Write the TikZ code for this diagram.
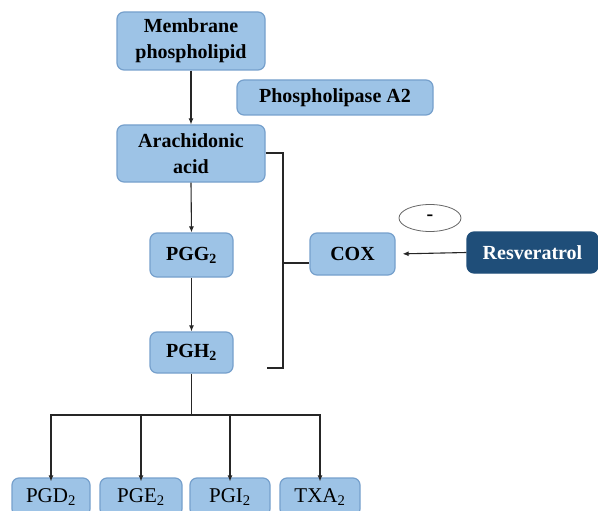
\documentclass[tikz,border=0pt]{standalone}
\usepackage{fontspec}
\setmainfont{Liberation Serif}
\usepackage{xcolor}
\usetikzlibrary{arrows.meta}
\usetikzlibrary{shapes.geometric}
\definecolor{boxblue}{RGB}{157, 195, 230}
\definecolor{edgeblue}{RGB}{118, 160, 204}
\definecolor{darkblue}{RGB}{31, 78, 121}

\begin{document}
\begin{tikzpicture}[x=1pt,y=-1pt,
  stepbox/.style={draw=edgeblue,fill=boxblue,line width=1.2pt,rounded corners=7pt,
    align=center,inner sep=0pt,font=\fontsize{20}{26}\selectfont\bfseries},
  prodbox/.style={stepbox,font=\fontsize{21}{25}\selectfont},
  link/.style={line width=1.1pt,color=black!85},
  flow/.style={link,-{Latex[length=6pt,width=5pt]}}
]
\useasboundingbox (0,0) rectangle (598,511);

%pathway boxes
\node[stepbox,minimum width=148pt,minimum height=58pt] (mem) at (191,41) {Membrane\\phospholipid};
\node[stepbox,minimum width=196pt,minimum height=35pt] (pla) at (335,97.5) {Phospholipase A2};
\node[stepbox,minimum width=148pt,minimum height=57pt] (ara) at (191,153.5) {Arachidonic\\acid};
\node[stepbox,minimum width=83pt,minimum height=44pt] (pgg) at (191.5,255) {PGG\textsubscript{2}};
\node[stepbox,minimum width=83pt,minimum height=41pt] (pgh) at (191.5,352.5) {PGH\textsubscript{2}};
\node[stepbox,minimum width=85pt,minimum height=42pt] (cox) at (352.5,254) {COX};
\node[stepbox,fill=darkblue,draw=darkblue,text=white,minimum width=131pt,minimum height=41pt] (res) at (532.5,252.5) {Resveratrol};
\node[ellipse,draw=black!60,line width=0.8pt,minimum width=62pt,minimum height=27pt,inner sep=0pt,
  font=\fontsize{20}{24}\selectfont\bfseries] (minus) at (430,218) {-};

%products
\node[prodbox,minimum width=78pt,minimum height=38pt] (pgd) at (51,497) {PGD\textsubscript{2}};
\node[prodbox,minimum width=82pt,minimum height=38pt] (pge) at (141,497) {PGE\textsubscript{2}};
\node[prodbox,minimum width=80pt,minimum height=38pt] (pgi) at (230,497) {PGI\textsubscript{2}};
\node[prodbox,minimum width=80pt,minimum height=38pt] (txa) at (320,497) {TXA\textsubscript{2}};

%main chain
\draw[flow] (mem.south) -- (ara.north);
\draw[flow] (ara.south) -- (pgg.north);
\draw[flow] (pgg.south) -- (pgh.north);
\draw[flow,shorten >=7pt] (res.west) -- (cox.east);

%cox bracket
\coordinate (brtop) at (283,153);
\coordinate (brbot) at (283,368);
\coordinate (brmid) at (283,263);
\draw[link] (ara.east |- brtop) -- (brtop) -- (brbot) -- +(-16,0);
\draw[link] (brmid) -- (cox.west |- brmid);

%branching to products
\coordinate (split) at (191.5,415);
\draw[link] (pgh.south) -- (split);
\foreach \p in {pgd,pge,pgi,txa}{
  \draw[flow] (split) -| ([yshift=-4pt]\p.north);
}
\end{tikzpicture}
\end{document}
